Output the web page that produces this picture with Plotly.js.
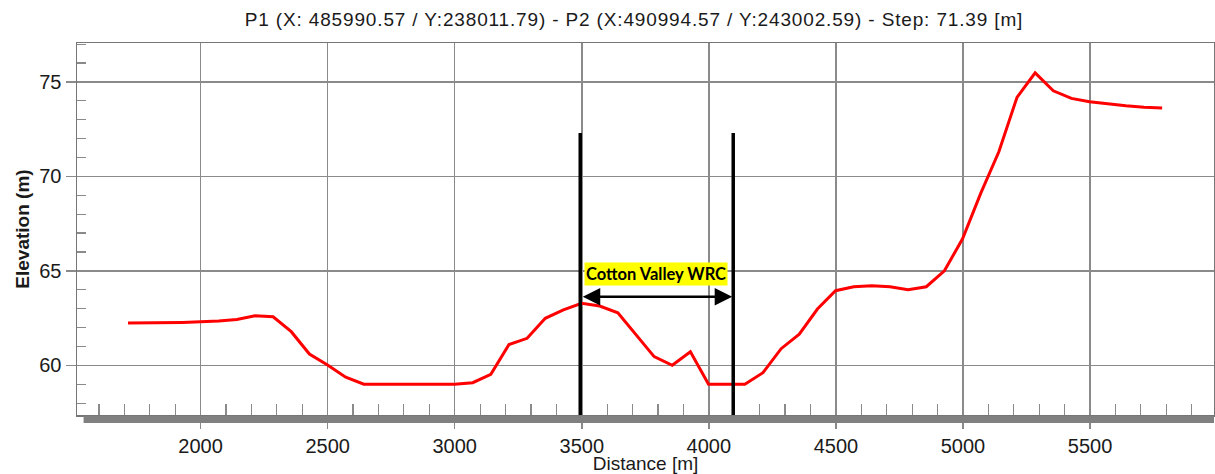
<!DOCTYPE html>
<html>
<head>
<meta charset="utf-8">
<script src="https://cdn.plot.ly/plotly-3.0.1.min.js"></script>
<style>
  html, body { margin: 0; padding: 0; background: #ffffff; }
  #chart { width: 1215px; height: 474px; }
  .gtitle { letter-spacing: 0.85px; }
</style>
</head>
<body>
<div id="chart"></div>
<script>
// Profile distances [m] (step 71.39 m)
const distance = [
  1714.4, 1785.8, 1857.2, 1928.6, 2000.0, 2071.4, 2142.7, 2214.1, 2285.5, 2356.9,
  2428.3, 2499.7, 2571.1, 2642.5, 2713.9, 2785.3, 2856.7, 2928.1, 2999.5, 3070.8,
  3142.2, 3213.6, 3285.0, 3356.4, 3427.8, 3499.2, 3570.6, 3642.0, 3713.4, 3784.8,
  3856.1, 3927.5, 3998.9, 4070.3, 4141.7, 4213.1, 4284.5, 4355.9, 4427.3, 4498.7,
  4570.1, 4641.4, 4712.8, 4784.2, 4855.6, 4927.0, 4998.4, 5069.8, 5141.2, 5212.6,
  5284.0, 5355.4, 5426.8, 5498.1, 5569.5, 5640.9, 5712.3, 5783.7
];
// Elevation [m]
const elevation = [
  62.24, 62.24, 62.25, 62.27, 62.30, 62.34, 62.43, 62.62, 62.57, 61.78,
  60.60, 60.02, 59.37, 59.00, 59.00, 59.00, 59.00, 59.00, 59.00, 59.08,
  59.52, 61.10, 61.43, 62.49, 62.93, 63.28, 63.14, 62.78, 61.60, 60.46,
  60.00, 60.72, 59.00, 59.00, 59.00, 59.61, 60.88, 61.65, 62.98, 63.95,
  64.16, 64.21, 64.16, 64.00, 64.16, 65.00, 66.70, 69.10, 71.30, 74.18,
  75.48, 74.53, 74.13, 73.95, 73.83, 73.74, 73.66, 73.62
];
// Cotton Valley WRC extent
const wrcStart = 3494;
const wrcEnd = 4096;
const wrcLineTop = 72.3;
const wrcArrowY = 63.63;
const wrcLabel = "Cotton Valley WRC";
const wrcLabelX = 3793;
const wrcLabelY = 64.83;

const titleText = "P1 (X: 485990.57 / Y:238011.79) - P2 (X:490994.57 / Y:243002.59) - Step: 71.39 [m]";
const xTickVals = [2000, 2500, 3000, 3500, 4000, 4500, 5000, 5500];
const yTickVals = [60, 65, 70, 75];

const xRange = [1513.8, 5987.8];
const yRange = [57.37, 77.06];

const gridCol = '#8a8a8a';
const axisCol = '#767676';
const font = 'Liberation Sans, Arial, sans-serif';

const traces = [{
  x: distance,
  y: elevation,
  type: 'scatter',
  mode: 'lines',
  line: { color: '#ff0000', width: 3 },
  hoverinfo: 'skip',
  showlegend: false
}];

const layout = {
  width: 1215,
  height: 474,
  margin: { l: 77, r: 1, t: 43, b: 59, pad: 0 },
  paper_bgcolor: '#ffffff',
  plot_bgcolor: '#ffffff',
  showlegend: false,
  font: { family: font, color: '#1a1a1a' },
  title: {
    text: titleText,
    font: { family: font, size: 19, color: '#1a1a1a' },
    x: 634 / 1215, xref: 'container', xanchor: 'center',
    y: 1 - 19 / 474, yref: 'container', yanchor: 'middle'
  },
  xaxis: {
    range: xRange,
    tickvals: xTickVals,
    ticktext: xTickVals.map(String),
    ticks: 'outside', ticklen: 12, tickwidth: 1.5, tickcolor: gridCol,
    tickfont: { family: font, size: 20, color: '#1a1a1a' },
    showgrid: true, gridcolor: gridCol, gridwidth: 1.5,
    zeroline: false,
    showline: true, linecolor: axisCol, linewidth: 1.5, mirror: true,
    minor: { dtick: 100, tick0: 0, ticks: 'inside', ticklen: 11, tickwidth: 1.2, tickcolor: gridCol, showgrid: false },
    title: { text: 'Distance [m]', font: { family: font, size: 19, color: '#1a1a1a' }, standoff: 2 },
    fixedrange: true
  },
  yaxis: {
    range: yRange,
    tickvals: yTickVals,
    ticktext: yTickVals.map(String),
    ticks: 'outside', ticklen: 10, tickwidth: 1.5, tickcolor: gridCol,
    tickfont: { family: font, size: 20, color: '#1a1a1a' },
    showgrid: true, gridcolor: gridCol, gridwidth: 1.5,
    zeroline: false,
    showline: true, linecolor: axisCol, linewidth: 1.5, mirror: true,
    minor: { dtick: 1, tick0: 0, ticks: 'inside', ticklen: 9, tickwidth: 1.2, tickcolor: gridCol, showgrid: false },
    title: { text: '<b>Elevation (m)</b>', font: { family: font, size: 19, color: '#1a1a1a' }, standoff: 4 },
    fixedrange: true
  },
  shapes: [
    // thick grey bar under the x axis
    { type: 'rect', xref: 'paper', yref: 'paper', x0: 0.0058, x1: 1, y0: -0.0215, y1: -0.0027,
      fillcolor: '#808080', line: { width: 0 }, layer: 'above' },
    // WRC boundary lines
    { type: 'line', xref: 'x', yref: 'y', x0: wrcStart, x1: wrcStart, y0: yRange[0], y1: wrcLineTop,
      line: { color: '#000000', width: 3.5 } },
    { type: 'line', xref: 'x', yref: 'y', x0: wrcEnd, x1: wrcEnd, y0: yRange[0], y1: wrcLineTop,
      line: { color: '#000000', width: 3.5 } }
  ],
  annotations: [
    { x: wrcEnd - 4, y: wrcArrowY, ax: wrcStart + 4, ay: wrcArrowY, xref: 'x', yref: 'y', axref: 'x', ayref: 'y',
      text: '', showarrow: true, arrowhead: 2, startarrowhead: 2, arrowside: 'end+start',
      arrowsize: 1.4, startarrowsize: 1.4, arrowwidth: 2.5, arrowcolor: '#000000' },
    { x: wrcLabelX, y: wrcLabelY, xref: 'x', yref: 'y', showarrow: false,
      text: '<b>' + wrcLabel + '</b>', bgcolor: '#ffff00', borderpad: 1,
      font: { family: 'Lato, Open Sans, sans-serif', size: 16.5, color: '#000000' } }
  ]
};

Plotly.newPlot('chart', traces, layout, { displayModeBar: false, staticPlot: true });
</script>
</body>
</html>
